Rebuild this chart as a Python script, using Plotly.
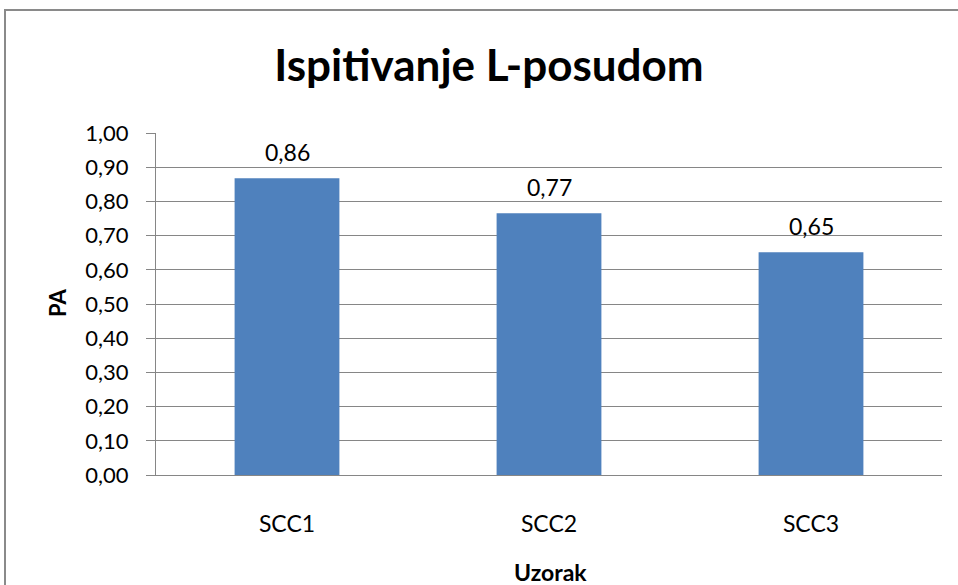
import plotly.graph_objects as go

categories = ["SCC1", "SCC2", "SCC3"]
values = [0.868, 0.765, 0.651]
value_labels = ["0,86", "0,77", "0,65"]
title_text = "Ispitivanje L-posudom"
x_title = "Uzorak"
y_title = "PA"

W, H = 958, 585
L, R, T, B = 156, 16, 133, 110
pw, ph = W - L - R, H - T - B

font_family = "Lato, 'Open Sans', sans-serif"

fig = go.Figure(go.Bar(
    x=categories, y=values,
    marker=dict(color="#4F81BD", line=dict(width=0)),
    width=0.4,
    hoverinfo="skip",
))

fig.update_layout(
    width=W, height=H,
    margin=dict(l=L, r=R, t=T, b=B),
    paper_bgcolor="white", plot_bgcolor="white",
    separators=",.",
    showlegend=False,
    font=dict(family=font_family, color="#000000"),
    title=dict(text=f"<b>{title_text}</b>", x=489 / W, xanchor="center",
               y=1 - 66 / H, yanchor="middle",
               font=dict(size=44, family=font_family, color="#000000")),
    xaxis=dict(showgrid=False, showline=True, linecolor="#868686", linewidth=1,
               ticks="", tickfont=dict(size=23, family=font_family),
               ticklabelstandoff=28),
    yaxis=dict(range=[0, 1], dtick=0.1, tickformat=".2f",
               showgrid=True, gridcolor="#868686", gridwidth=1,
               showline=True, linecolor="#868686", linewidth=1,
               ticks="outside", ticklen=9, tickcolor="#868686",
               ticklabelstandoff=13,
               tickfont=dict(size=22, family=font_family), zeroline=False),
    annotations=[
        dict(text=f"<b>{y_title}</b>", xref="paper", yref="paper",
             x=(57 - L) / pw, y=(H - B - 303) / ph, textangle=-90,
             xanchor="center", yanchor="middle",
             showarrow=False, font=dict(size=22, family=font_family)),
        dict(text=f"<b>{x_title}</b>", xref="paper", yref="paper",
             x=(550 - L) / pw, y=-(572 - (H - B)) / ph, showarrow=False,
             xanchor="center", yanchor="middle",
             font=dict(size=23, family=font_family)),
    ] + [
        dict(text=lab, x=c, y=v, xref="x", yref="y", yshift=26,
             yanchor="middle", showarrow=False,
             font=dict(size=23, family=font_family, color="#000000"))
        for c, v, lab in zip(categories, values, value_labels)
    ],
    shapes=[
        dict(type="rect", xref="paper", yref="paper",
             x0=(5 - L) / pw, x1=(W + 20 - L) / pw,
             y0=-(H + 20 - (H - B)) / ph, y1=1 + (T - 10) / ph,
             line=dict(color="#8a8a8a", width=2), fillcolor="rgba(0,0,0,0)",
             layer="below"),
    ],
)

fig.write_html(
    "out.html",
    config={"displayModeBar": False},
    post_script="document.body.style.margin='0';document.body.style.overflow='hidden';",
)
